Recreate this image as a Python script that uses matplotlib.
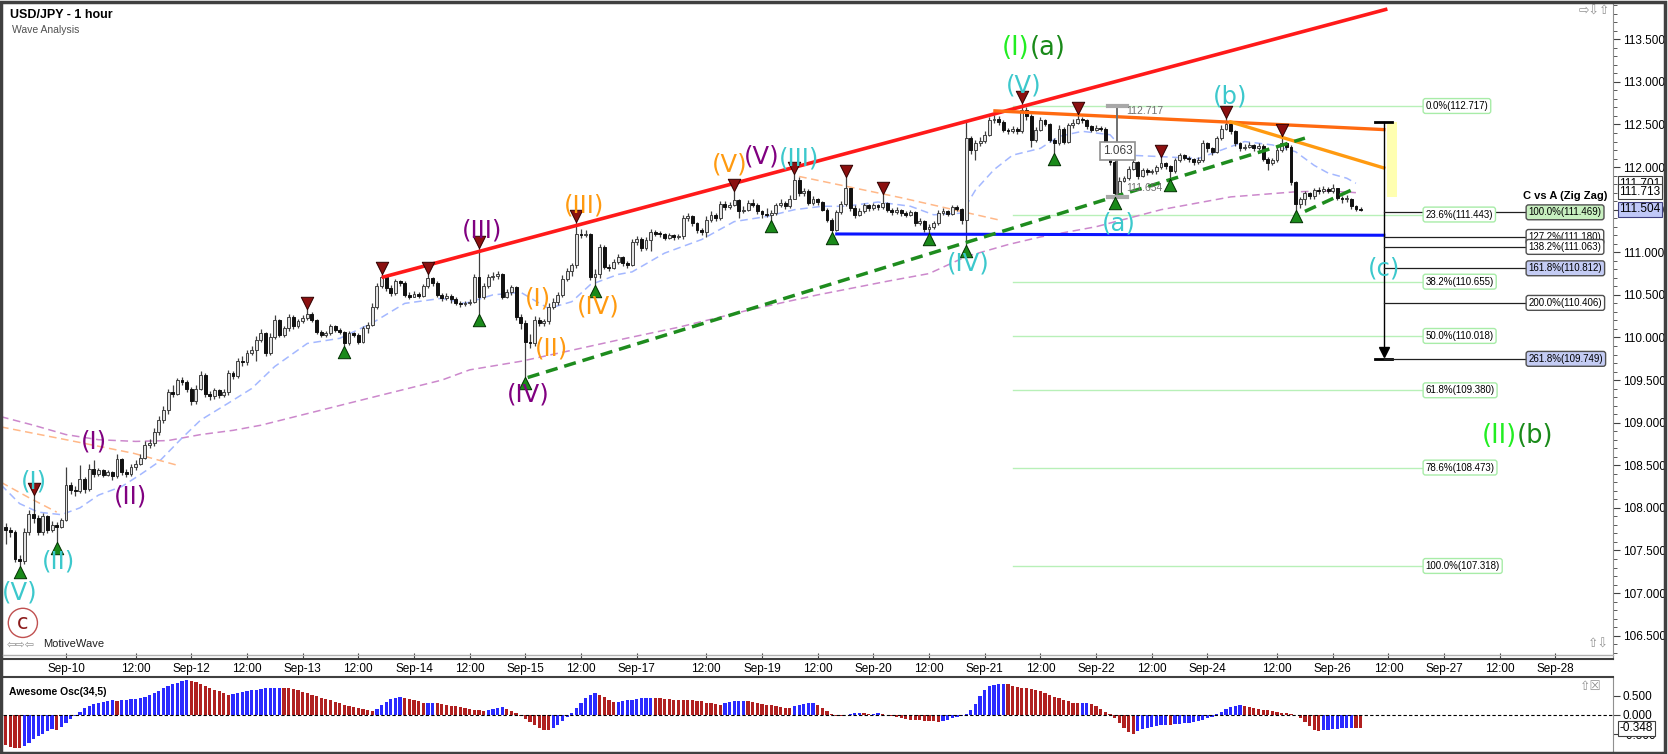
import numpy as np
import matplotlib
matplotlib.use('Agg')
import matplotlib.pyplot as plt
from matplotlib.ticker import MultipleLocator, FixedLocator
from matplotlib.transforms import blended_transform_factory
from matplotlib.patches import Rectangle

plt.rcParams['font.family'] = ['Liberation Sans', 'DejaVu Sans']

# hourly candles, USD/JPY (index 0 = first candle)
first_open = 107.78
closes = [
    107.74, 107.72, 107.40, 107.38, 107.72, 107.93, 107.88, 107.72, 107.90, 107.74,
    107.80, 107.78, 107.86, 108.27, 108.21, 108.20, 108.34, 108.22, 108.46, 108.40,
    108.44, 108.39, 108.42, 108.37, 108.57, 108.42, 108.40, 108.48, 108.52, 108.59,
    108.74, 108.76, 108.89, 109.03, 109.15, 109.36, 109.34, 109.50, 109.48, 109.40,
    109.25, 109.40, 109.56, 109.34, 109.31, 109.38, 109.33, 109.36, 109.58, 109.55,
    109.72, 109.71, 109.82, 109.85, 109.97, 110.05, 109.82, 110.01, 110.21, 110.03,
    110.11, 110.24, 110.13, 110.19, 110.23, 110.28, 110.21, 110.07, 110.03, 110.05,
    110.13, 110.09, 110.07, 109.93, 110.05, 110.03, 109.95, 110.11, 110.15, 110.36,
    110.60, 110.71, 110.58, 110.52, 110.66, 110.64, 110.50, 110.48, 110.51, 110.49,
    110.60, 110.70, 110.64, 110.50, 110.46, 110.49, 110.45, 110.41, 110.39, 110.40,
    110.42, 110.71, 110.48, 110.60, 110.71, 110.72, 110.74, 110.48, 110.53, 110.59,
    110.24, 110.17, 109.95, 109.93, 110.21, 110.17, 110.19, 110.36, 110.42, 110.50,
    110.69, 110.78, 110.85, 111.22, 111.20, 111.22, 110.71, 110.75, 111.06, 110.83,
    110.81, 110.89, 110.95, 110.87, 110.85, 111.12, 111.16, 111.05, 111.15, 111.24,
    111.22, 111.21, 111.17, 111.20, 111.18, 111.19, 111.40, 111.42, 111.34, 111.26,
    111.24, 111.38, 111.44, 111.40, 111.57, 111.53, 111.55, 111.61, 111.48, 111.50,
    111.58, 111.56, 111.48, 111.45, 111.44, 111.46, 111.55, 111.58, 111.54, 111.63,
    111.85, 111.69, 111.72, 111.58, 111.62, 111.59, 111.50, 111.38, 111.26, 111.47,
    111.57, 111.75, 111.52, 111.44, 111.49, 111.55, 111.52, 111.55, 111.53, 111.58,
    111.50, 111.47, 111.50, 111.46, 111.44, 111.47, 111.34, 111.37, 111.27, 111.30,
    111.34, 111.46, 111.48, 111.45, 111.53, 111.51, 111.38, 112.34, 112.20, 112.28,
    112.31, 112.38, 112.55, 112.57, 112.53, 112.44, 112.42, 112.45, 112.42, 112.67,
    112.60, 112.32, 112.43, 112.55, 112.51, 112.32, 112.28, 112.45, 112.30, 112.49,
    112.52, 112.57, 112.55, 112.48, 112.44, 112.46, 112.45, 112.28, 112.06, 111.70,
    111.84, 111.87, 111.98, 112.06, 111.89, 111.96, 111.94, 111.95, 112.00, 112.05,
    112.01, 111.95, 112.08, 112.14, 112.11, 112.09, 112.06, 112.08, 112.28, 112.22,
    112.18, 112.34, 112.45, 112.51, 112.42, 112.28, 112.22, 112.24, 112.26, 112.22,
    112.25, 112.10, 112.05, 112.08, 112.20, 112.28, 112.24, 111.82, 111.57, 111.62,
    111.69, 111.66, 111.73, 111.72, 111.74, 111.72, 111.75, 111.64, 111.62, 111.63,
    111.54, 111.51, 111.50]
highs = [
    107.82, 107.78, 107.74, 107.45, 107.76, 107.97, 108.15, 107.92, 107.94, 107.92,
    107.84, 107.83, 107.88, 108.48, 108.30, 108.26, 108.50, 108.36, 108.52, 108.56,
    108.47, 108.46, 108.45, 108.43, 108.63, 108.58, 108.46, 108.51, 108.56, 108.63,
    108.79, 108.81, 108.94, 109.08, 109.19, 109.40, 109.44, 109.53, 109.54, 109.50,
    109.42, 109.44, 109.61, 109.58, 109.37, 109.41, 109.40, 109.39, 109.62, 109.61,
    109.76, 109.78, 109.85, 109.90, 110.02, 110.10, 110.06, 110.05, 110.26, 110.22,
    110.14, 110.28, 110.26, 110.22, 110.26, 110.34, 110.30, 110.22, 110.09, 110.08,
    110.16, 110.15, 110.11, 110.08, 110.08, 110.07, 110.05, 110.14, 110.18, 110.40,
    110.64, 110.75, 110.73, 110.62, 110.69, 110.68, 110.66, 110.53, 110.54, 110.53,
    110.63, 110.75, 110.71, 110.66, 110.52, 110.52, 110.51, 110.47, 110.43, 110.43,
    110.45, 110.74, 111.05, 110.64, 110.75, 110.77, 110.78, 110.76, 110.57, 110.62,
    110.60, 110.27, 110.20, 110.04, 110.25, 110.24, 110.22, 110.40, 110.46, 110.53,
    110.73, 110.82, 110.88, 111.36, 111.27, 111.26, 111.23, 110.80, 111.10, 111.08,
    110.86, 110.92, 110.98, 110.96, 110.90, 111.16, 111.19, 111.18, 111.18, 111.27,
    111.26, 111.25, 111.23, 111.23, 111.22, 111.22, 111.44, 111.46, 111.44, 111.36,
    111.29, 111.42, 111.48, 111.46, 111.60, 111.60, 111.59, 111.72, 111.63, 111.54,
    111.61, 111.62, 111.58, 111.50, 111.52, 111.50, 111.58, 111.62, 111.60, 111.67,
    111.92, 111.88, 111.76, 111.74, 111.66, 111.64, 111.60, 111.52, 111.40, 111.50,
    111.60, 111.88, 111.76, 111.55, 111.52, 111.58, 111.57, 111.58, 111.57, 111.68,
    111.59, 111.52, 111.53, 111.51, 111.48, 111.50, 111.49, 111.40, 111.38, 111.33,
    111.37, 111.50, 111.52, 111.50, 111.56, 111.55, 111.52, 112.53, 112.36, 112.32,
    112.35, 112.42, 112.59, 112.61, 112.60, 112.55, 112.46, 112.48, 112.47, 112.75,
    112.70, 112.62, 112.47, 112.59, 112.57, 112.52, 112.34, 112.49, 112.47, 112.52,
    112.56, 112.62, 112.59, 112.56, 112.49, 112.49, 112.48, 112.47, 112.30, 112.08,
    111.88, 111.90, 112.01, 112.10, 112.07, 111.99, 111.99, 111.98, 112.03, 112.12,
    112.06, 112.03, 112.11, 112.17, 112.15, 112.13, 112.11, 112.12, 112.32, 112.30,
    112.24, 112.37, 112.49, 112.58, 112.52, 112.43, 112.29, 112.27, 112.29, 112.27,
    112.28, 112.27, 112.12, 112.11, 112.23, 112.36, 112.30, 112.26, 111.84, 111.65,
    111.72, 111.71, 111.76, 111.77, 111.78, 111.77, 111.80, 111.76, 111.66, 111.67,
    111.64, 111.55, 111.53]
lows = [
    107.58, 107.66, 107.36, 107.32, 107.34, 107.68, 107.82, 107.68, 107.68, 107.70,
    107.72, 107.60, 107.76, 107.84, 108.16, 108.14, 108.18, 108.18, 108.20, 108.36,
    108.37, 108.36, 108.37, 108.33, 108.35, 108.39, 108.36, 108.37, 108.45, 108.50,
    108.57, 108.70, 108.73, 108.86, 109.00, 109.10, 109.30, 109.32, 109.44, 109.36,
    109.21, 109.22, 109.38, 109.30, 109.27, 109.28, 109.29, 109.30, 109.33, 109.51,
    109.52, 109.66, 109.68, 109.80, 109.72, 109.95, 109.78, 109.80, 109.98, 110.00,
    110.01, 110.08, 110.10, 110.11, 110.17, 110.21, 110.18, 110.04, 110.00, 110.01,
    110.03, 110.06, 110.04, 109.90, 109.91, 110.00, 109.92, 109.93, 110.05, 110.13,
    110.34, 110.58, 110.55, 110.49, 110.50, 110.60, 110.47, 110.45, 110.47, 110.46,
    110.47, 110.58, 110.61, 110.47, 110.43, 110.44, 110.41, 110.38, 110.36, 110.37,
    110.38, 110.40, 110.28, 110.45, 110.58, 110.68, 110.69, 110.45, 110.46, 110.50,
    110.20, 110.10, 109.54, 109.88, 109.90, 110.13, 110.14, 110.16, 110.33, 110.38,
    110.48, 110.66, 110.72, 110.82, 111.17, 111.18, 110.68, 110.62, 110.70, 110.80,
    110.78, 110.80, 110.86, 110.84, 110.82, 110.84, 111.08, 111.02, 111.03, 111.02,
    111.19, 111.18, 111.15, 111.16, 111.15, 111.16, 111.16, 111.37, 111.31, 111.23,
    111.20, 111.18, 111.36, 111.37, 111.38, 111.50, 111.51, 111.54, 111.40, 111.46,
    111.48, 111.53, 111.45, 111.40, 111.41, 111.38, 111.44, 111.53, 111.51, 111.52,
    111.62, 111.66, 111.66, 111.55, 111.55, 111.56, 111.48, 111.35, 111.24, 111.25,
    111.45, 111.54, 111.49, 111.40, 111.42, 111.46, 111.49, 111.50, 111.50, 111.51,
    111.47, 111.44, 111.45, 111.43, 111.41, 111.42, 111.31, 111.32, 111.24, 111.23,
    111.27, 111.32, 111.44, 111.42, 111.44, 111.48, 111.33, 111.08, 112.15, 112.08,
    112.25, 112.28, 112.36, 112.52, 112.49, 112.41, 112.39, 112.40, 112.39, 112.40,
    112.55, 112.24, 112.29, 112.42, 112.48, 112.29, 112.16, 112.26, 112.27, 112.28,
    112.46, 112.51, 112.52, 112.45, 112.41, 112.42, 112.42, 112.25, 112.02, 111.65,
    111.70, 111.83, 111.85, 111.96, 111.86, 111.88, 111.91, 111.92, 111.92, 111.98,
    111.98, 111.86, 111.93, 112.06, 112.08, 112.06, 112.03, 112.04, 112.06, 112.18,
    112.14, 112.16, 112.32, 112.44, 112.39, 112.25, 112.19, 112.20, 112.22, 112.19,
    112.20, 112.07, 111.97, 112.03, 112.06, 112.18, 112.20, 111.79, 111.50, 111.52,
    111.55, 111.62, 111.63, 111.68, 111.70, 111.69, 111.70, 111.61, 111.58, 111.59,
    111.51, 111.49, 111.49]

# Awesome Oscillator (34,5)
ao_values = [
    -0.78, -0.82, -0.85, -0.86, -0.80, -0.72, -0.63, -0.55, -0.48, -0.42,
    -0.37, -0.38, -0.30, -0.20, -0.11, -0.02, 0.08, 0.17, 0.24, 0.29,
    0.32, 0.34, 0.36, 0.38, 0.37, 0.39, 0.40, 0.41, 0.42, 0.44,
    0.47, 0.51, 0.56, 0.62, 0.69, 0.75, 0.80, 0.84, 0.88, 0.90,
    0.88, 0.85, 0.81, 0.76, 0.71, 0.66, 0.61, 0.56, 0.52, 0.54,
    0.57, 0.60, 0.62, 0.64, 0.66, 0.68, 0.69, 0.70, 0.705, 0.71,
    0.70, 0.69, 0.67, 0.64, 0.60, 0.57, 0.53, 0.49, 0.45, 0.42,
    0.38, 0.34, 0.30, 0.27, 0.24, 0.21, 0.18, 0.15, 0.13, 0.11,
    0.16, 0.25, 0.34, 0.41, 0.45, 0.46, 0.44, 0.42, 0.39, 0.36,
    0.30, 0.31, 0.32, 0.30, 0.28, 0.26, 0.24, 0.22, 0.20, 0.18,
    0.16, 0.14, 0.12, 0.10, 0.12, 0.15, 0.18, 0.20, 0.16, 0.10,
    0.04, -0.02, -0.10, -0.18, -0.26, -0.33, -0.38, -0.40, -0.35, -0.26,
    -0.16, -0.06, 0.05, 0.18, 0.32, 0.45, 0.53, 0.56, 0.53, 0.47,
    0.40, 0.33, 0.34, 0.36, 0.38, 0.40, 0.42, 0.43, 0.44, 0.45,
    0.44, 0.43, 0.42, 0.41, 0.40, 0.395, 0.39, 0.385, 0.38, 0.37,
    0.35, 0.32, 0.30, 0.28, 0.27, 0.30, 0.33, 0.35, 0.36, 0.37,
    0.35, 0.33, 0.31, 0.29, 0.27, 0.25, 0.23, 0.21, 0.19, 0.17,
    0.22, 0.26, 0.28, 0.30, 0.31, 0.25, 0.17, 0.10, 0.03, -0.02,
    -0.03, -0.01, 0.02, 0.05, 0.06, 0.04, 0.02, 0.03, 0.04, 0.02,
    0.00, -0.03, -0.06, -0.08, -0.10, -0.12, -0.13, -0.14, -0.15, -0.155,
    -0.16, -0.17, -0.15, -0.12, -0.08, -0.05, -0.02, 0.02, 0.12, 0.28,
    0.50, 0.65, 0.74, 0.77, 0.79, 0.80, 0.79, 0.76, 0.73, 0.71,
    0.69, 0.67, 0.65, 0.62, 0.57, 0.51, 0.47, 0.44, 0.39, 0.35,
    0.31, 0.30, 0.305, 0.31, 0.29, 0.24, 0.16, 0.07, 0.02, -0.08,
    -0.20, -0.34, -0.45, -0.49, -0.42, -0.37, -0.33, -0.30, -0.285, -0.27,
    -0.26, -0.265, -0.24, -0.23, -0.22, -0.20, -0.18, -0.15, -0.12, -0.09,
    -0.04, 0.03, 0.09, 0.15, 0.20, 0.23, 0.26, 0.23, 0.20, 0.17,
    0.15, 0.14, 0.12, 0.10, 0.08, 0.06, 0.04, 0.02, 0.01, -0.08,
    -0.18, -0.29, -0.38, -0.42, -0.40, -0.38, -0.37, -0.36, -0.35, -0.34,
    -0.33, -0.34, -0.348]

# moving averages (read at a few candles)
fast_ma_idx = [-1, 3, 7, 12, 16, 20, 25, 29, 33, 38, 42, 48, 53, 58, 65, 72, 79, 86, 94, 99,
               105, 111, 117, 122, 126, 132, 135, 142, 150, 157, 164, 170, 176, 181, 188, 195,
               200, 206, 209, 213, 217, 223, 227, 232, 238, 242, 250, 257, 261, 267, 273, 278,
               282, 285, 289, 291]
fast_ma = [108.27, 108.05, 107.95, 107.92, 108.00, 108.15, 108.25, 108.39, 108.54, 108.82,
           109.03, 109.23, 109.40, 109.66, 109.93, 109.99, 110.17, 110.40, 110.46, 110.40,
           110.50, 110.53, 110.34, 110.42, 110.62, 110.74, 110.77, 110.99, 111.15, 111.36,
           111.42, 111.50, 111.54, 111.54, 111.59, 111.54, 111.44, 111.46, 111.73, 111.97,
           112.14, 112.22, 112.36, 112.42, 112.38, 112.14, 112.12, 112.10, 112.18, 112.30,
           112.26, 112.18, 112.02, 111.93, 111.87, 111.81]
slow_ma_idx = [-1, 6, 13, 20, 28, 35, 42, 49, 55, 77, 94, 100, 111, 122, 132, 145, 160, 175,
               190, 199, 207, 216, 223, 235, 249, 264, 278, 285, 291]
slow_ma = [109.07, 108.97, 108.86, 108.80, 108.78, 108.79, 108.86, 108.91, 108.97, 109.27,
           109.50, 109.62, 109.72, 109.85, 109.97, 110.12, 110.32, 110.50, 110.66, 110.75,
           110.95, 111.09, 111.18, 111.30, 111.50, 111.65, 111.71, 111.72, 111.70]
peach_a = ([-1, 13, 27.6, 37], [108.95, 108.80, 108.64, 108.50])
peach_b = ([-1, 5, 11], [108.30, 108.12, 107.95])
peach_c = ([171, 193, 214], [111.89, 111.64, 111.38])

# swing markers (candle indices)
swing_highs = [6, 65, 81, 91, 102, 123, 157, 170, 181, 189, 219, 231, 249, 263, 275]
swing_lows = [3, 11, 73, 102, 112, 127, 165, 178, 199, 207, 226, 239, 251, 278]

# trend lines (candle index, price)
red_line = ([81.4, 297.4], [110.71, 113.85])
orange_line = ([213.2, 297.0], [112.66, 112.44])
orange_line2 = ([264.0, 297.0], [112.53, 111.99])
blue_line = ([179.1, 297.0], [111.215, 111.20])
green_line = ([112.5, 280.0], [109.53, 112.34])
green_line2 = ([280.0, 290.0], [111.48, 111.73])

# Fibonacci retracement of the move
fib_pct = ['0.0%', '23.6%', '38.2%', '50.0%', '61.8%', '78.6%', '100.0%']
fib_val = [112.717, 111.443, 110.655, 110.018, 109.380, 108.473, 107.318]
# C vs A (Zig Zag) projection
zz_pct = ['100.0%', '127.2%', '138.2%', '161.8%', '200.0%', '261.8%']
zz_val = [111.469, 111.180, 111.063, 110.812, 110.406, 109.749]
zz_fill = ['#c8f0c0', 'white', 'white', '#c4ccf4', 'white', '#c4ccf4']

tick_idx = [13, 28, 40, 52, 64, 76, 88, 100, 112, 124, 136, 151, 163, 175, 187, 199,
            211, 223, 235, 247, 259, 274, 286, 298, 310, 322, 334]
tick_lbl = ['Sep-10', '12:00', 'Sep-12', '12:00', 'Sep-13', '12:00', 'Sep-14', '12:00',
            'Sep-15', '12:00', 'Sep-17', '12:00', 'Sep-19', '12:00', 'Sep-20', '12:00',
            'Sep-21', '12:00', 'Sep-22', '12:00', 'Sep-24', '12:00', 'Sep-26', '12:00',
            'Sep-27', '12:00', 'Sep-28']

CY, PU, OR = '#3cc8cc', '#800080', '#ff9a10'
wave_txt = ['(V)', '(I)', '(II)', '(I)', '(II)', '(III)', '(IV)', '(I)', '(II)', '(III)',
            '(IV)', '(V)', '(V)', '(III)', '(IV)', '(V)', '(a)', '(b)', '(c)']
wave_x = [3, 6, 11.3, 19, 27, 102.6, 112.7, 114.8, 117.7, 124.6,
          127.7, 156.1, 162.9, 170.9, 207.5, 219.4, 239.8, 263.9, 297]
wave_y = [107.01, 108.31, 107.37, 108.78, 108.13, 111.26, 109.33, 110.46, 109.87, 111.55,
          110.36, 112.03, 112.12, 112.10, 110.87, 112.96, 111.34, 112.83, 110.81]
wave_col = [CY, CY, CY, PU, PU, PU, PU, OR, OR, OR, OR, OR, PU, CY, CY, CY, CY, CY, CY]

# ---------------------------------------------------------------
W, H = 1668, 754
fig = plt.figure(figsize=(W / 100, H / 100), dpi=100)


def px_rect(x0, y0, x1, y1):
    return [x0 / W, 1 - y1 / H, (x1 - x0) / W, (y1 - y0) / H]


ax = fig.add_axes(px_rect(3, 3, 1613, 659))
osc = fig.add_axes(px_rect(3, 677, 1613, 752))
XL = (-0.58, 346.4)
ax.set_xlim(*XL)
ax.set_ylim(106.226, 113.926)
osc.set_xlim(*XL)
osc.set_ylim(-0.959, 0.984)

# candles
c = np.array(closes)
o = np.array([first_open] + closes[:-1])
h = np.maximum(np.array(highs), np.maximum(o, c))
l = np.minimum(np.array(lows), np.minimum(o, c))
x = np.arange(len(c))
up = c >= o
lo = np.minimum(o, c)
bh = np.maximum(np.abs(c - o), 0.012)
ax.vlines(x, l, h, color='#404040', lw=0.9, zorder=3)
ax.bar(x[up], bh[up], 0.62, bottom=lo[up], facecolor='#e2e2e2', edgecolor='#404040', lw=0.7, zorder=4)
ax.bar(x[~up], bh[~up], 0.62, bottom=lo[~up], facecolor='#111111', edgecolor='#111111', lw=0.7, zorder=4)

# moving averages
ax.plot(slow_ma_idx, slow_ma, color='#cc88cc', lw=1.1, ls=(0, (5, 3)), zorder=2)
ax.plot(fast_ma_idx, fast_ma, color='#a4b8ff', lw=1.1, ls=(0, (5, 3)), zorder=2)
for seg in (peach_a, peach_b, peach_c):
    ax.plot(seg[0], seg[1], color='#ffb888', lw=1.1, ls=(0, (5, 3)), zorder=2)

# fibonacci levels
for p, v in zip(fib_pct, fib_val):
    ax.plot([217, 305.5], [v, v], color='#b8f0b8', lw=1, zorder=1)
    ax.text(306, v, f'{p}({v:.3f})', fontsize=7, ha='left', va='center', zorder=8,
            bbox=dict(boxstyle='round,pad=0.25', fc='white', ec='#a8eca8', lw=1))

# yellow target box and projection
ax.add_patch(Rectangle((297.7, 111.65), 2.2, 0.88, fc='#ffffb0', ec='none', zorder=1))
ax.plot([297, 297], [112.53, 109.80], color='black', lw=1, zorder=6)
ax.plot([295.2, 298.8], [112.53, 112.53], color='black', lw=2, zorder=6)
ax.plot([295.2, 298.8], [109.749, 109.749], color='black', lw=2, zorder=6)
ax.plot([297], [109.83], marker='v', ms=7, color='black', zorder=6)
for p, v, fc in zip(zz_pct, zz_val, zz_fill):
    ax.plot([297, 327.8], [v, v], color='#202020', lw=0.9, zorder=6)
    ax.text(328.2, v, f'{p}({v:.3f})', fontsize=7, ha='left', va='center', zorder=8,
            bbox=dict(boxstyle='round,pad=0.25', fc=fc, ec='#505050', lw=1))
ax.text(336.2, 111.66, 'C vs A (Zig Zag)', fontsize=8, fontweight='bold', ha='center', va='center', zorder=8)

# trend lines
ax.plot(*red_line, color='#ff1a1a', lw=2.6, zorder=5)
ax.plot(*orange_line, color='#ff6a10', lw=2.4, zorder=5)
ax.plot(*orange_line2, color='#ff9a10', lw=2.4, zorder=5)
ax.plot(*blue_line, color='#0a14ff', lw=2.2, zorder=5)
ax.plot(*green_line, color='#1e8c1e', lw=2.5, ls=(0, (3.5, 2)), zorder=5)
ax.plot(*green_line2, color='#1e8c1e', lw=2.5, ls=(0, (3.5, 2)), zorder=5)

# swing markers
ax.scatter(swing_highs, [h[i] + 0.07 for i in swing_highs], marker='v', s=80,
           fc='#8b1010', ec='#300000', lw=0.7, zorder=7)
ax.scatter(swing_lows, [l[i] - 0.07 for i in swing_lows], marker='^', s=80,
           fc='#1a8a1a', ec='#003000', lw=0.7, zorder=7)

# measuring tool
ax.plot([239.6, 239.6], [112.717, 111.654], color='#707070', lw=1.4, zorder=6)
ax.plot([237.6, 241.6], [112.717, 112.717], color='#a8a8a8', lw=3, zorder=6)
ax.plot([237.6, 241.6], [111.654, 111.654], color='#a8a8a8', lw=3, zorder=6)
ax.text(241.4, 112.66, '112.717', fontsize=7.5, color='#707070', ha='left', va='center', zorder=8)
ax.text(241.4, 111.75, '111.654', fontsize=7.5, color='#707070', ha='left', va='center', zorder=8)
ax.text(239.6, 112.19, '1.063', fontsize=8.5, color='#404040', ha='center', va='center', zorder=8,
        bbox=dict(boxstyle='square,pad=0.25', fc='white', ec='#909090', lw=1.2))

# wave labels
for t, xx, yy, col in zip(wave_txt, wave_x, wave_y, wave_col):
    ax.text(xx, yy, t, color=col, fontsize=17.5, family='DejaVu Sans', ha='center', va='center', zorder=9)
ax.text(214.65, 113.40, '(I)', color='#22ee22', fontsize=18.5, family='DejaVu Sans', ha='left', va='center')
ax.text(220.6, 113.40, '(a)', color='#1a8a1a', fontsize=18.5, family='DejaVu Sans', ha='left', va='center')
ax.text(318.1, 108.84, '(II)', color='#22ee22', fontsize=18.5, family='DejaVu Sans', ha='left', va='center')
ax.text(325.7, 108.84, '(b)', color='#1a8a1a', fontsize=18.5, family='DejaVu Sans', ha='left', va='center')
ax.text(3.7, 106.65, 'c', color='#8b1a1a', fontsize=15, family='DejaVu Sans', ha='center', va='center',
        bbox=dict(boxstyle='circle,pad=0.22', fc='none', ec='#c05050', lw=1))
ax.text(0.3, 106.40, '\u21e6\u21e8\u21e6', color='#909090', fontsize=8, family='DejaVu Sans', ha='left', va='center')
ax.text(8.0, 106.40, 'MotiveWave', color='#202020', fontsize=8, ha='left', va='center')
ax.text(342.3, 113.83, '\u21e8\u21e9\u21e7', color='#909090', fontsize=9, family='DejaVu Sans', ha='center', va='center')
ax.text(343.3, 106.40, '\u21e7\u21e9', color='#909090', fontsize=9, family='DejaVu Sans', ha='center', va='center')

# axes styling
ax.yaxis.tick_right()
ax.set_yticks(np.arange(106.5, 113.6, 0.5))
ax.yaxis.set_minor_locator(MultipleLocator(0.1))
ax.set_yticklabels([f'{v:.3f}' for v in np.arange(106.5, 113.6, 0.5)])
ax.tick_params(axis='y', which='major', direction='out', length=5, pad=2, labelsize=8.5, color='#404040')
ax.tick_params(axis='y', which='minor', direction='out', length=3, color='#404040')
ax.set_xticks(tick_idx)
ax.set_xticklabels(tick_lbl)
ax.tick_params(axis='x', direction='in', length=4, pad=3, labelsize=8.5, color='#404040')
for s in ('top', 'left'):
    ax.spines[s].set_visible(False)
ax.spines['right'].set_color('#909090')
ax.spines['bottom'].set_color('#404040')
ax.spines['bottom'].set_linewidth(1.5)

tr = blended_transform_factory(ax.transAxes, ax.transData)
ax.text(1.004, 111.80, '111.701', transform=tr, fontsize=8.5, ha='left', va='center', clip_on=False,
        bbox=dict(boxstyle='square,pad=0.15', fc='white', ec='#404040', lw=0.8))
ax.text(1.004, 111.713, '111.713', transform=tr, fontsize=8.5, ha='left', va='center', clip_on=False,
        bbox=dict(boxstyle='square,pad=0.15', fc='white', ec='#404040', lw=0.8))
ax.text(1.004, 111.504, '111.504', transform=tr, fontsize=8.5, ha='left', va='center', clip_on=False,
        bbox=dict(boxstyle='square,pad=0.15', fc='#c0c8f8', ec='#404080', lw=0.8))

# oscillator
ao = np.array(ao_values)
ao_col = ['#b02020'] + ['#2a2aff' if ao[i] >= ao[i - 1] else '#b02020' for i in range(1, len(ao))]
osc.bar(np.arange(len(ao)), ao, 0.7, color=ao_col, zorder=2)
osc.axhline(0, color='black', lw=0.8, ls=(0, (3, 2)), zorder=3)
osc.yaxis.tick_right()
osc.set_yticks([0.5, 0.0, -0.5])
osc.set_yticklabels(['0.500', '0.000', '-0.500'])
osc.tick_params(axis='y', direction='out', length=5, pad=2, labelsize=8.5, color='#404040')
osc.set_xticks([])
for s in ('left', 'bottom'):
    osc.spines[s].set_visible(False)
osc.spines['top'].set_color('#404040')
osc.spines['top'].set_linewidth(1.5)
osc.spines['right'].set_color('#909090')
osc.text(0.004, 0.80, 'Awesome Osc(34,5)', transform=osc.transAxes, fontsize=7.5, fontweight='bold',
         ha='left', va='center')
osc.text(0.986, 0.87, '\u21e7\u2612', transform=osc.transAxes, color='#909090', fontsize=9,
         family='DejaVu Sans', ha='center', va='center')
otr = blended_transform_factory(osc.transAxes, osc.transData)
osc.text(1.004, -0.348, '-0.348', transform=otr, fontsize=8.5, ha='left', va='center', clip_on=False,
         bbox=dict(boxstyle='square,pad=0.15', fc='white', ec='#404040', lw=0.8))

# title
fig.text(10 / W, 1 - 15 / H, 'USD/JPY - 1 hour', fontsize=9, fontweight='bold', ha='left', va='center')
fig.text(12 / W, 1 - 30 / H, 'Wave Analysis', fontsize=7.5, color='#505050', ha='left', va='center')

# frame lines
fig.add_artist(plt.Line2D([3 / W, 1613 / W], [1 - 655 / H, 1 - 655 / H], color='#b0b0b0', lw=1))
fig.add_artist(Rectangle((0.0005, 0.001), 0.998, 0.997, transform=fig.transFigure,
                         fill=False, ec='#404040', lw=2.5))

fig.savefig('out.png', dpi=100)
